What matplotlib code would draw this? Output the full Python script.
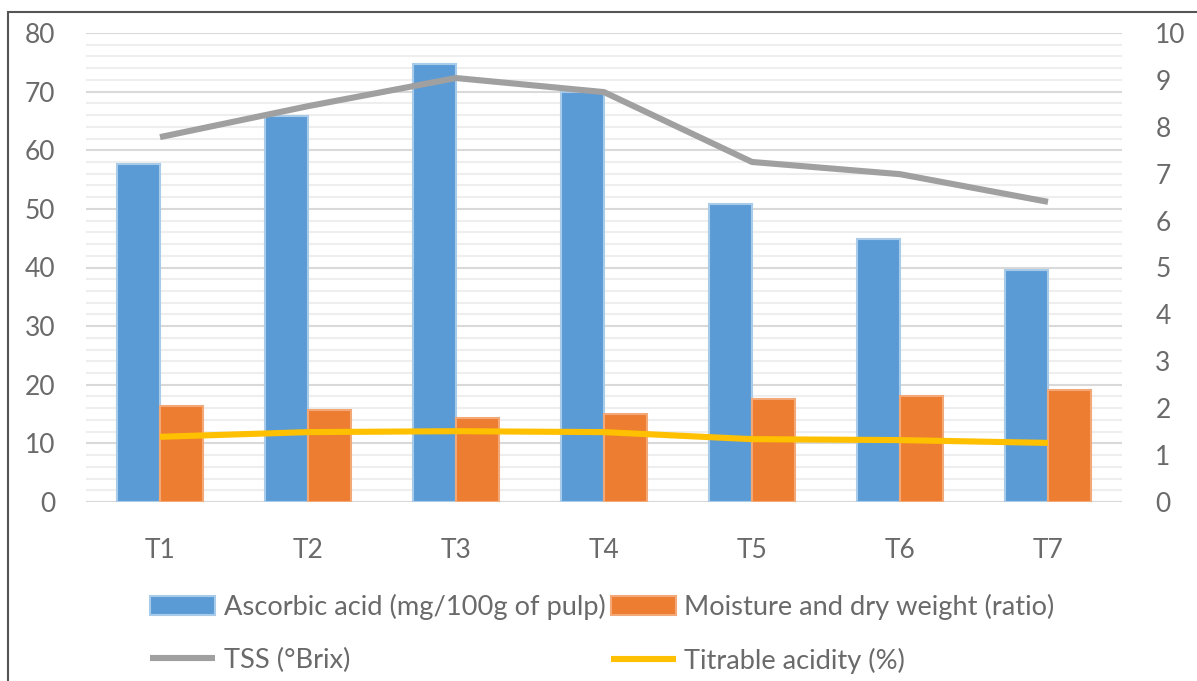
import matplotlib
matplotlib.use("Agg")
import matplotlib.pyplot as plt
import numpy as np
from matplotlib.patches import Rectangle

categories = ["T1", "T2", "T3", "T4", "T5", "T6", "T7"]
ascorbic = [57.7, 65.9, 74.7, 70.0, 50.9, 44.9, 39.6]
moisture = [16.4, 15.7, 14.3, 15.0, 17.6, 18.1, 19.1]
tss = [7.78, 8.44, 9.04, 8.74, 7.25, 6.99, 6.40]
acidity = [1.39, 1.49, 1.51, 1.49, 1.34, 1.32, 1.26]
labels = ["Ascorbic acid (mg/100g of pulp)", "Moisture and dry weight (ratio)",
          "TSS (°Brix)", "Titrable acidity (%)"]

plt.rcParams['font.family'] = ['Lato', 'DejaVu Sans']
txt = '#6A6A6A'
fs = 19

fig = plt.figure(figsize=(11.97, 6.81), dpi=100)
fig.patches.append(Rectangle((8/1197, -0.1), 1.2, 1 + 0.1 - 12/681, transform=fig.transFigure,
                             fill=False, edgecolor='#555555', linewidth=1.5))
ax = fig.add_axes([86/1197, 1 - 502/681, 1036/1197, 469/681])
ax2 = ax.twinx()

x = np.arange(len(categories))
w = 0.29
b1 = ax.bar(x - w/2, ascorbic, w, color='#5B9BD5', edgecolor='#A9CBEA', linewidth=1.5, label=labels[0], zorder=3)
b2 = ax.bar(x + w/2, moisture, w, color='#ED7D31', edgecolor='#F3A878', linewidth=1.5, label=labels[1], zorder=3)
l1, = ax2.plot(x, tss, color='#A0A0A0', lw=4.4, label=labels[2], solid_capstyle='butt')
l2, = ax2.plot(x, acidity, color='#FFC000', lw=4.4, label=labels[3], solid_capstyle='butt')

ax.set_xlim(-0.5, len(categories) - 0.5)
ax.set_ylim(0, 80)
ax2.set_ylim(0, 10)
ax.set_yticks(np.arange(0, 81, 10))
ax.set_yticks(np.arange(0, 81, 2), minor=True)
ax2.set_yticks(np.arange(0, 11, 1))
ax.set_xticks(x)
ax.set_xticklabels(categories)

ax.grid(axis='y', which='major', color='#D9D9D9', lw=1.5, zorder=0)
ax.grid(axis='y', which='minor', color='#EEEEEE', lw=1.5, zorder=0)
ax.set_axisbelow(True)
for a in (ax, ax2):
    for s in a.spines.values():
        s.set_visible(False)
ax.tick_params(axis='both', which='both', length=0, labelsize=fs, labelcolor=txt)
ax.tick_params(axis='y', pad=22)
ax.tick_params(axis='x', pad=26)
ax2.tick_params(axis='y', length=0, labelsize=fs, labelcolor=txt, pad=24)
ax.axhline(0, color='#D9D9D9', lw=1.5, zorder=1)

handles = [b1, l1, b2, l2]
hl = [labels[0], labels[2], labels[1], labels[3]]
leg = fig.legend(handles, hl, loc='center left', bbox_to_anchor=(150/1197, 1 - 634/681), ncol=2,
                 frameon=False, fontsize=19.6, labelcolor=txt, handlelength=2.4,
                 handletextpad=0.3, columnspacing=0.2, labelspacing=1.0, borderpad=0,
                 borderaxespad=0)
ax.set_zorder(ax2.get_zorder() - 1)
ax.patch.set_visible(False)

fig.savefig("out.png", dpi=100)
